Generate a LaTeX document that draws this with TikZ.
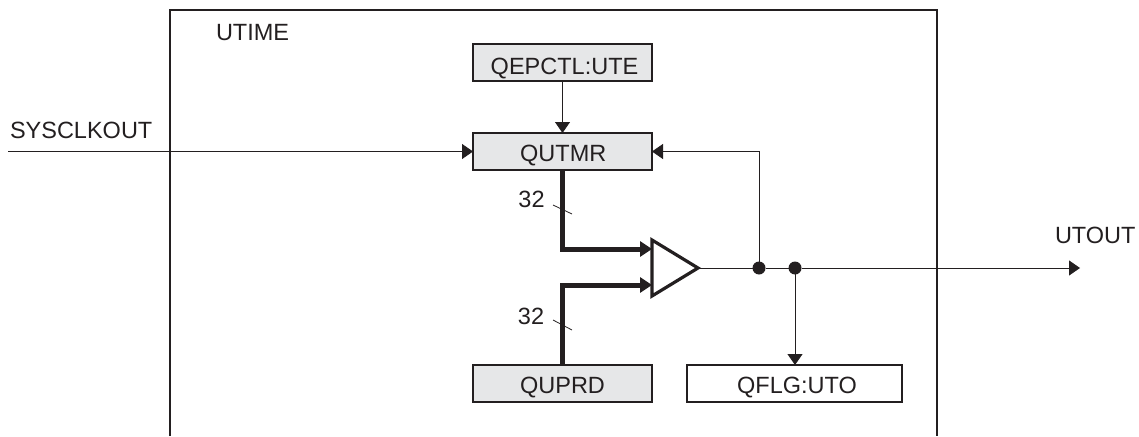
\documentclass[tikz,border=0pt]{standalone}
\usepackage{fontspec}
\setmainfont{Liberation Sans}
\usetikzlibrary{arrows.meta,calc}
\definecolor{ink}{HTML}{231F20}
\definecolor{boxgray}{HTML}{E6E7E8}
\newcommand{\boxlabel}[3]{\hspace*{#1}\raisebox{-#2}{#3}}
\tikzset{
  x=1pt,y=-1pt,
  every node/.style={font=\fontsize{23.5}{26}\selectfont,text=ink,inner sep=0pt,outer sep=0pt},
  blockbox/.style={draw=ink,line width=2pt,minimum height=37pt,anchor=north west,text height=17.5pt,text depth=0pt},
  graybox/.style={blockbox,fill=boxgray,minimum width=179pt},
  thin line/.style={draw=ink,line width=1pt},
  arrowed/.style={thin line,-{Triangle[length=11pt,width=15pt]}},
  bus/.style={draw=ink,line width=5pt,line join=miter},
  busarrow/.style={bus,-{Triangle[length=12pt,width=15pt]}},
  tick/.style={draw=ink,line width=0.8pt},
  jdot/.style={circle,fill=ink,minimum size=13pt}
}
\begin{document}
\begin{tikzpicture}
\useasboundingbox (0,0) rectangle (1139,436);
% outer frame, open at the bottom
\coordinate (fbl) at (170,436);
\coordinate (ftl) at (170,10);
\coordinate (ftr) at (937,10);
\coordinate (fbr) at (937,436);
\draw[thin line,line width=1.1pt] (fbl) -- (ftl) -- (ftr) -- (fbr);
% texts
\node[anchor=west] (utime) at (216,33) {UTIME};
\node[anchor=west] (sysl) at (10,130.5) {SYSCLKOUT};
\node[anchor=east] (utoutl) at (1135.5,235) {UTOUT};
% blocks
\node[graybox] (ute) at (473,44) {\boxlabel{4pt}{3.5pt}{QEPCTL:UTE}};
\node[graybox] (qutmr) at (473,133) {\boxlabel{1.5pt}{1pt}{QUTMR}};
\node[graybox] (quprd) at (473,365) {\boxlabel{0pt}{1.5pt}{QUPRD}};
\node[blockbox,minimum width=215pt] (uto) at (687,365) {\boxlabel{5pt}{1.5pt}{QFLG:UTO}};
% comparator
\coordinate (ctl) at (652,240);
\coordinate (cbl) at (652,296);
\coordinate (ctip) at (698,268);
\draw[draw=ink,line width=3.2pt,line join=miter] (ctl) -- (ctip) -- (cbl) -- cycle;
% free ends and junctions
\coordinate (sysstart) at (8,151.5);
\coordinate (outend) at (1080,268);
\node[jdot] (j1) at (759,268) {};
\node[jdot] (j2) at (795,268) {};
% thin connectors
\draw[arrowed] (ute.south) -- (qutmr.north);
\draw[arrowed] (sysstart) -- (qutmr.west);
\draw[thin line] (ctip) -- (j1) -- (j2);
\draw[arrowed] (j2) -- (outend);
\draw[arrowed] (j1.center) |- (qutmr.east);
\draw[arrowed] (j2.center) -- (j2 |- uto.north);
% buses
\coordinate (in1) at (652,249);
\coordinate (in2) at (652,285);
\draw[busarrow] (qutmr.south) |- (in1);
\draw[busarrow] (quprd.north) |- (in2);
% width marks
\coordinate (t1a) at (553,205); \coordinate (t1b) at (572,214);
\coordinate (t2a) at (553,320); \coordinate (t2b) at (572,330);
\draw[tick] (t1a) -- (t1b);
\draw[tick] (t2a) -- (t2b);
\node (w1) at (531.5,199.5) {32};
\node (w2) at (531,316) {32};
\end{tikzpicture}
\end{document}
